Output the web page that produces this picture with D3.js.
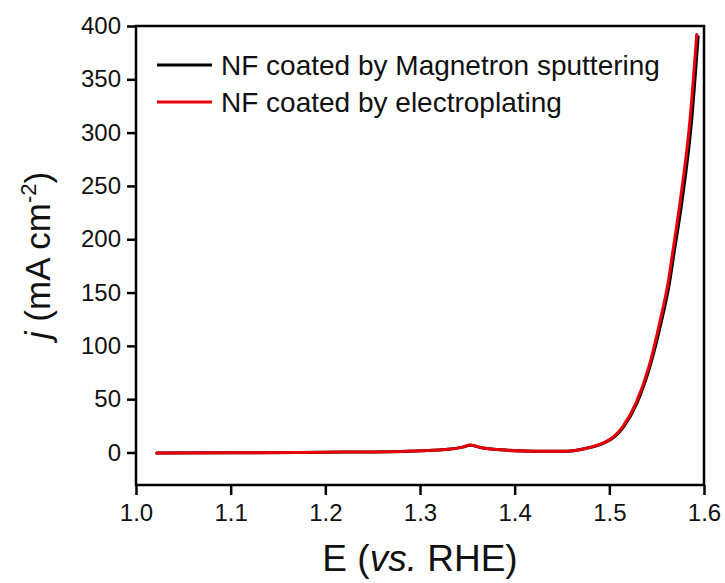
<!DOCTYPE html>
<html>
<head>
<meta charset="utf-8">
<script src="https://cdn.jsdelivr.net/npm/d3@7"></script>
<style>
  body { margin: 0; background: #fff; }
  text { font-family: Arial, "Liberation Sans", sans-serif; fill: #111; }
</style>
</head>
<body>
<div id="chart"></div>
<script>
// data
const SERIES_NAMES = ["NF coated by Magnetron sputtering", "NF coated by electroplating"];
const SERIES_COLORS = ["#000000", "#e8000b"];

const POTENTIAL_SPUTTER = [1.022, 1.1, 1.2, 1.28, 1.33, 1.345, 1.353, 1.365, 1.385, 1.42, 1.455, 1.476, 1.494, 1.506, 1.515, 1.529, 1.543, 1.5545, 1.5635, 1.5685, 1.5765, 1.587, 1.5938];
const CURRENT_SPUTTER   = [-0.6, -0.3, 0.3, 1, 3, 5, 6.8, 4.5, 2.5, 1.2, 1.2, 4, 8.8, 15, 24, 46, 81, 121, 159, 188, 234, 312, 390];

const POTENTIAL_PLATING = [1.022, 1.1, 1.2, 1.28, 1.33, 1.345, 1.353, 1.365, 1.385, 1.42, 1.455, 1.476, 1.493, 1.505, 1.514, 1.528, 1.542, 1.553, 1.562, 1.567, 1.5746, 1.5852, 1.5923];
const CURRENT_PLATING   = [-0.6, -0.3, 0.3, 1, 3, 5, 7, 4.5, 2.5, 1.2, 1.2, 4, 8.8, 15, 24, 46, 81, 121, 159, 188, 234, 312, 392];

const X_TICKS = [1.0, 1.1, 1.2, 1.3, 1.4, 1.5, 1.6];
const Y_TICKS = [0, 50, 100, 150, 200, 250, 300, 350, 400];

// frame setup
const FRAME_WIDTH = 725;
const FRAME_HEIGHT = 583;
const MARGINS = {left: 136, right: 21, top: 26, bottom: 98};
const VIS_WIDTH = FRAME_WIDTH - MARGINS.left - MARGINS.right;
const VIS_HEIGHT = FRAME_HEIGHT - MARGINS.top - MARGINS.bottom;

const FRAME = d3.select("#chart")
                .append("svg")
                  .attr("width", FRAME_WIDTH)
                  .attr("height", FRAME_HEIGHT);

const X_SCALE = d3.scaleLinear()
                    .domain([1.0, 1.6])
                    .range([0, VIS_WIDTH]);
const Y_SCALE = d3.scaleLinear()
                    .domain([-30.5, 400])
                    .range([VIS_HEIGHT, 0]);

const PLOT = FRAME.append("g")
                .attr("transform", "translate(" + MARGINS.left + "," + MARGINS.top + ")");

// curves (black first, red on top)
const series = [
  {potential: POTENTIAL_SPUTTER, current: CURRENT_SPUTTER},
  {potential: POTENTIAL_PLATING, current: CURRENT_PLATING}
];

const line = d3.line()
                .x((d) => X_SCALE(d[0]))
                .y((d) => Y_SCALE(d[1]))
                .curve(d3.curveMonotoneX);

series.forEach((s, i) => {
  const pts = s.potential.map((e, k) => [e, s.current[k]]);
  PLOT.append("path")
      .datum(pts)
      .attr("d", line)
      .attr("fill", "none")
      .attr("stroke", SERIES_COLORS[i])
      .attr("stroke-width", 3)
      .attr("stroke-linejoin", "round")
      .attr("stroke-linecap", "round");
});

// frame box
PLOT.append("rect")
    .attr("x", 0).attr("y", 0)
    .attr("width", VIS_WIDTH).attr("height", VIS_HEIGHT)
    .attr("fill", "none")
    .attr("stroke", "#000")
    .attr("stroke-width", 2.5);

// x axis
const xAxis = PLOT.append("g")
    .attr("transform", "translate(0," + VIS_HEIGHT + ")")
    .call(d3.axisBottom(X_SCALE).tickValues(X_TICKS).tickFormat(d3.format(".1f"))
            .tickSize(10).tickPadding(9));
xAxis.select(".domain").remove();
xAxis.selectAll("line").attr("stroke", "#000").attr("stroke-width", 2.5);
xAxis.selectAll("text").attr("font-size", "24px").attr("fill", "#111")
     .style("font-family", "Arial, 'Liberation Sans', sans-serif");

// y axis
const yAxis = PLOT.append("g")
    .call(d3.axisLeft(Y_SCALE).tickValues(Y_TICKS).tickSize(9).tickPadding(6));
yAxis.select(".domain").remove();
yAxis.selectAll("line").attr("stroke", "#000").attr("stroke-width", 2.5);
yAxis.selectAll("text").attr("font-size", "24px").attr("fill", "#111")
     .style("font-family", "Arial, 'Liberation Sans', sans-serif");

// axis titles
const xTitle = FRAME.append("text")
    .attr("x", MARGINS.left + VIS_WIDTH / 2)
    .attr("y", 571)
    .attr("text-anchor", "middle")
    .attr("font-size", "37px");
xTitle.append("tspan").text("E (");
xTitle.append("tspan").attr("font-style", "italic").text("vs.");
xTitle.append("tspan").text(" RHE)");

const yTitle = FRAME.append("text")
    .attr("transform", "translate(50," + (MARGINS.top + VIS_HEIGHT / 2) + ") rotate(-90)")
    .attr("text-anchor", "middle")
    .attr("font-size", "35px");
yTitle.append("tspan").attr("font-style", "italic").text("j");
yTitle.append("tspan").text(" (mA cm");
yTitle.append("tspan").attr("font-size", "22px").attr("dy", -14).text("-2");
yTitle.append("tspan").attr("dy", 14).text(")");

// legend
const legend = FRAME.append("g");
SERIES_NAMES.forEach((name, i) => {
  const y = 65 + i * 37;
  legend.append("line")
        .attr("x1", 157).attr("x2", 212)
        .attr("y1", y).attr("y2", y)
        .attr("stroke", SERIES_COLORS[i])
        .attr("stroke-width", 3);
  legend.append("text")
        .attr("x", 221).attr("y", y + 10)
        .attr("font-size", "28px")
        .text(name);
});
</script>
</body>
</html>
